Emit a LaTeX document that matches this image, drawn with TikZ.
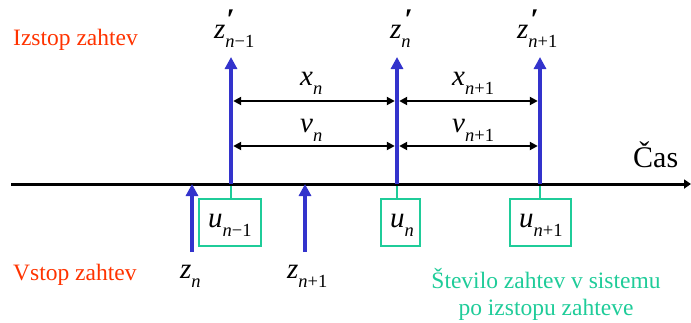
\documentclass[tikz,border=0pt]{standalone}
\usepackage{fontspec}
\setmainfont{Liberation Serif}
\usetikzlibrary{arrows.meta}
\definecolor{redo}{HTML}{FF3300}
\definecolor{tealc}{HTML}{1FCC99}
\definecolor{bluec}{HTML}{3333CC}
\newcommand\subs[1]{\raisebox{-9pt}{\fontsize{18.5}{19}\selectfont #1}}
\newcommand\iv[2]{\textit{#1}\subs{#2}}
\begin{document}
\begin{tikzpicture}[x=1pt,y=-1pt,
  lbl/.style={anchor=base west,inner sep=0pt,font=\fontsize{29}{31}\selectfont},
  prm/.style={anchor=base west,inner sep=0pt,font=\fontsize{30}{31}\selectfont\bfseries\itshape},
  txt/.style={anchor=base west,inner sep=0pt,font=\fontsize{23.5}{26}\selectfont},
  bluearrow/.style={draw=bluec,line width=4.5pt,-{Triangle[width=12pt,length=12pt]}},
  dim/.style={draw=black,line width=2.5pt,{Triangle[width=8pt,length=8pt]}-{Triangle[width=8pt,length=8pt]},shorten <=2.2pt,shorten >=2.2pt},
  ubox/.style={draw=tealc,line width=2.5pt,inner sep=0pt,minimum height=47pt},
  conn/.style={draw=tealc,line width=2.5pt}]
\useasboundingbox (0,0) rectangle (691,322);
% axis
\coordinate (ax0) at (11,184);
\coordinate (ax1) at (691,184);
\draw[line width=3pt,-{Triangle[width=9pt,length=7pt]}] (ax0) -- (ax1);
% output events
\coordinate (b1) at (231,185.5); \coordinate (t1) at (231,57);
\coordinate (b2) at (397,185.5); \coordinate (t2) at (397,57);
\coordinate (b3) at (540,185.5); \coordinate (t3) at (540,57);
% boxes
\node[ubox,minimum width=62pt] (u1) at (230,222.5) {};
\node[ubox,minimum width=39pt] (u2) at (400.5,222.5) {};
\node[ubox,minimum width=61pt] (u3) at (540.5,222.5) {};
\draw[conn] (b1) -- (b1 |- u1.north);
\draw[conn] (b2) -- (b2 |- u2.north);
\draw[conn] (b3) -- (b3 |- u3.north);
\draw[bluearrow] (231,184) -- (t1);
\draw[bluearrow] (397,184) -- (t2);
\draw[bluearrow] (540,184) -- (t3);
% dimension arrows
\coordinate (x1) at (231,101); \coordinate (x2) at (397,101); \coordinate (x3) at (540,101);
\coordinate (v1) at (231,146); \coordinate (v2) at (397,146); \coordinate (v3) at (540,146);
\draw[dim] (x1) -- (x2);
\draw[dim] (x2) -- (x3);
\draw[dim] (v1) -- (v2);
\draw[dim] (v2) -- (v3);
% input events
\coordinate (i1b) at (192,252); \coordinate (i1t) at (192,184);
\coordinate (i2b) at (305,252); \coordinate (i2t) at (305,184);
\draw[bluearrow] (i1b) -- (i1t);
\draw[bluearrow] (i2b) -- (i2t);
% labels
\node[lbl] (lz1) at (214,38) {\iv{z}{\textit{n}−1}};
\node[lbl] (lz2) at (390,38) {\iv{z}{\textit{n}}};
\node[lbl] (lz3) at (517,38) {\iv{z}{\textit{n}+1}};
\node[prm] (pz1) at (226,29.5) {′};
\node[prm] (pz2) at (404,29.5) {′};
\node[prm] (pz3) at (530,29.5) {′};
\node[lbl] (lx1) at (300,85) {\iv{x}{\textit{n}}};
\node[lbl] (lx2) at (452,85) {\iv{x}{\textit{n}+1}};
\node[lbl] (lv1) at (300,132) {\iv{v}{\textit{n}}};
\node[lbl] (lv2) at (452,132) {\iv{v}{\textit{n}+1}};
\node[lbl] (lu1) at (208,227) {\iv{u}{\textit{n}−1}};
\node[lbl] (lu2) at (390,227) {\iv{u}{\textit{n}}};
\node[lbl] (lu3) at (519,227) {\iv{u}{\textit{n}+1}};
\node[lbl] (lzi1) at (180,278) {\iv{z}{\textit{n}}};
\node[lbl] (lzi2) at (287,278) {\iv{z}{\textit{n}+1}};
\node[txt,text=redo] (izs) at (13,45) {Izstop zahtev};
\node[txt,text=redo] (vst) at (13,280) {Vstop zahtev};
\node[txt,anchor=base,text=tealc] (st1) at (546,288) {Število zahtev v sistemu};
\node[txt,anchor=base,text=tealc] (st2) at (546,315) {po izstopu zahteve};
\node[anchor=base west,inner sep=0pt,font=\fontsize{30}{32}\selectfont] (cas) at (633,167) {Čas};
\end{tikzpicture}
\end{document}
